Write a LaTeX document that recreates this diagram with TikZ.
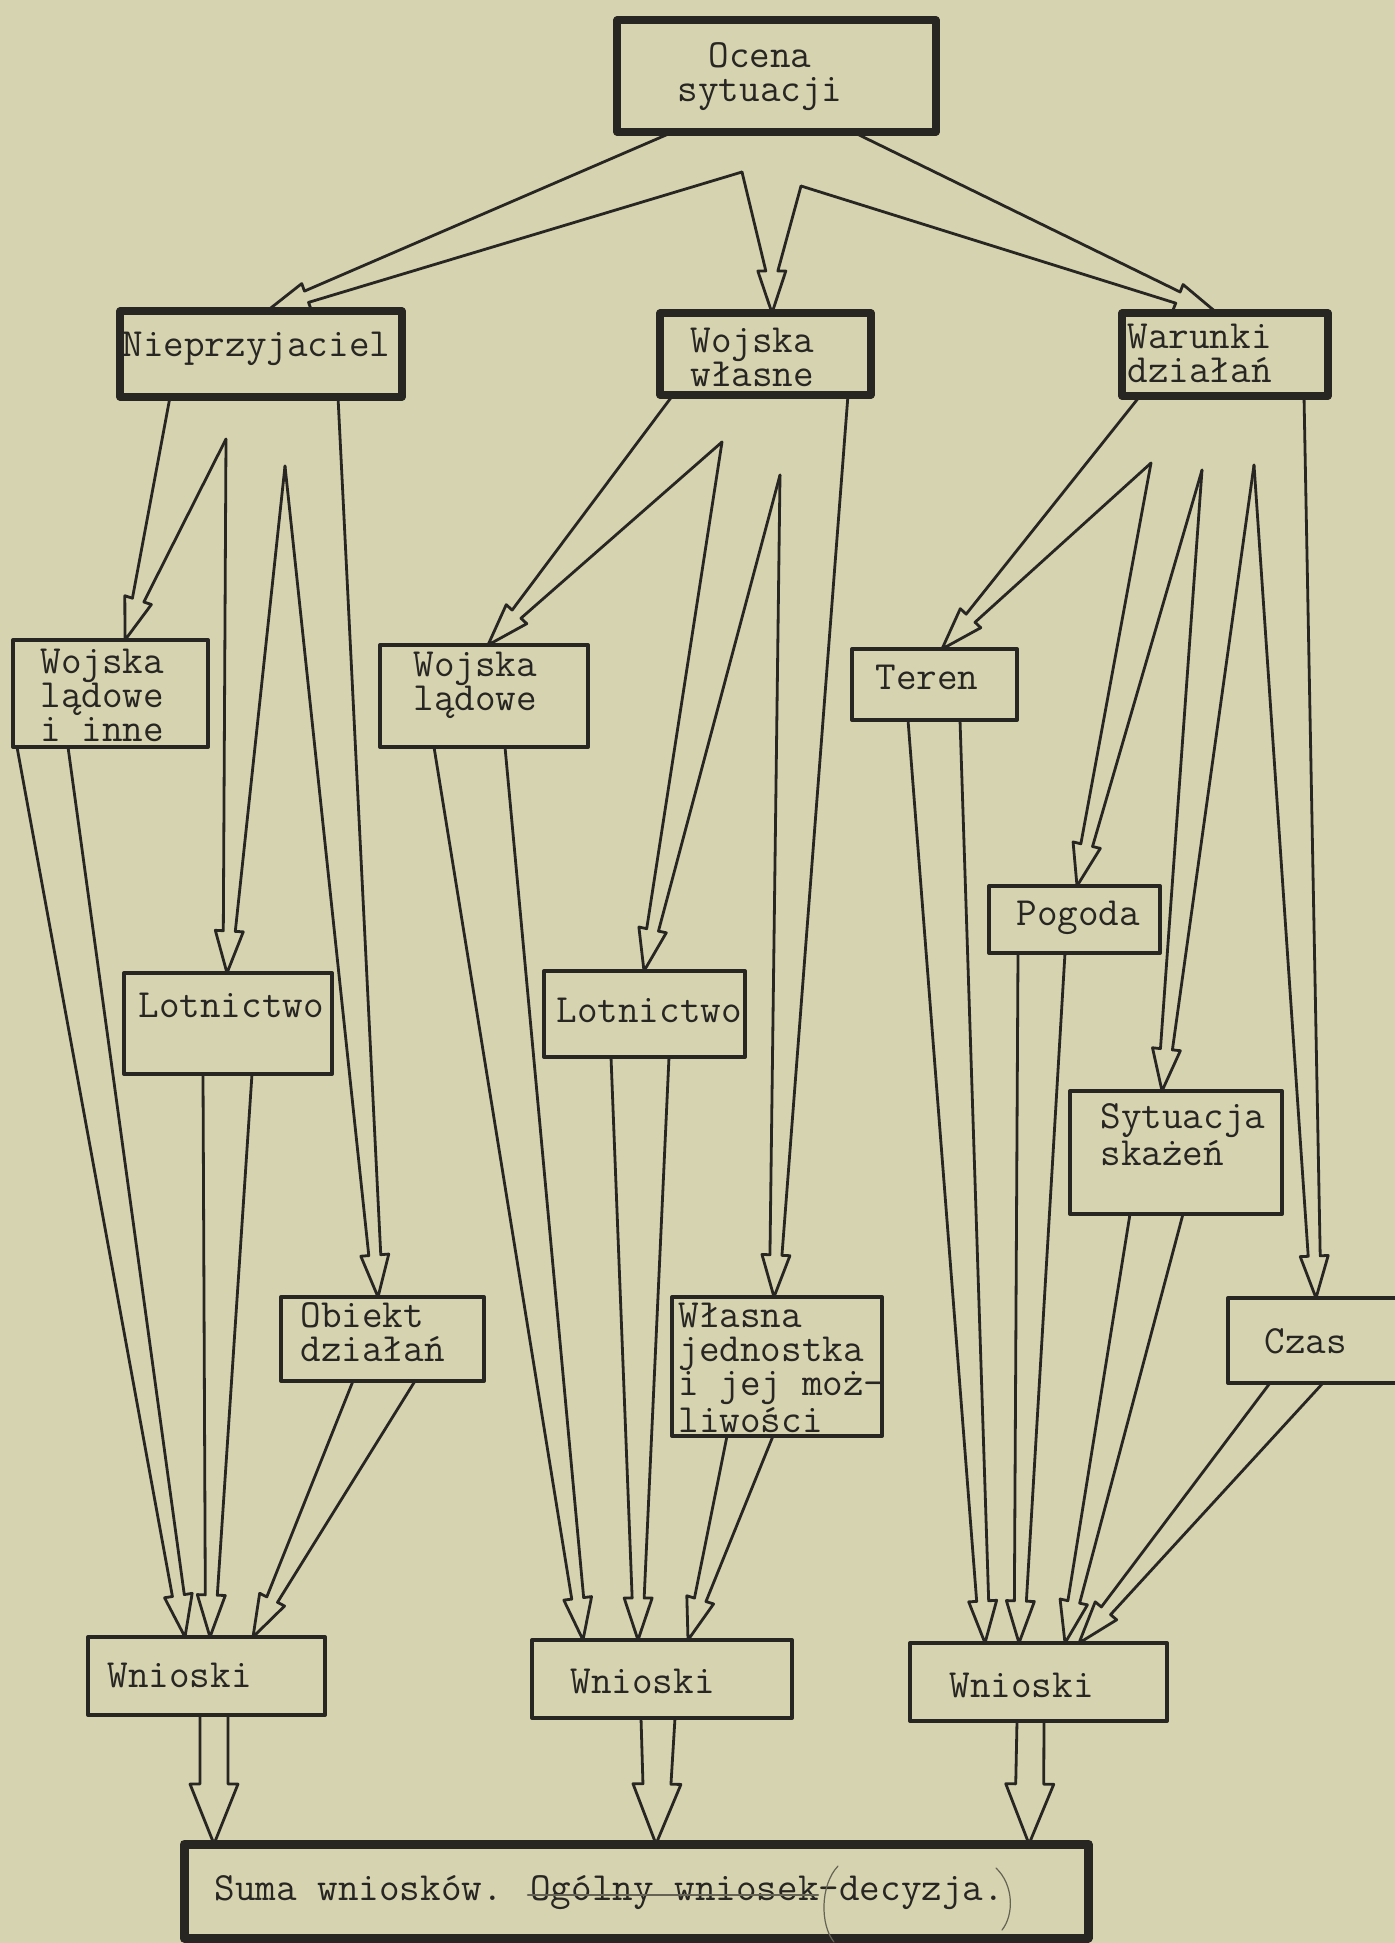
\documentclass[tikz,border=0pt]{standalone}
\usepackage{fontspec}
\usetikzlibrary{calc,fit}

\definecolor{paper}{RGB}{214,211,176}
\definecolor{ink}{RGB}{40,38,34}

\tikzset{
  box/.style={draw=ink, line width=2pt, inner sep=0pt, outer sep=0pt},
  boxthick/.style={box, line width=3.6pt},
  txt/.style={text=ink, inner sep=0pt, anchor=base west, align=left,
    font=\fontsize{20pt}{17pt}\selectfont\ttfamily\addfontfeatures{FakeBold=1.2}},
  conn/.style={draw=ink, line width=1.4pt},
  pencil/.style={draw=ink!65!paper, line width=0.6pt},
}

% hollow arrow: left start, right start, tip
\newcommand{\hdlen}{21pt}
\newcommand{\hdshaft}{3pt}
\newcommand{\hdbarb}{7pt}
\newcommand{\harrow}[3]{%
  \coordinate (ha) at (#1);
  \coordinate (hb) at (#2);
  \coordinate (ht) at (#3);
  \coordinate (hm) at ($(ha)!0.5!(hb)$);
  \coordinate (hh) at ($(ht)!\hdlen!(hm)$);
  \draw[conn] (ha) -- ($(hh)!\hdshaft!-90:(ht)$) -- ($(hh)!\hdbarb!-90:(ht)$)
    -- (ht) -- ($(hh)!\hdbarb!90:(ht)$) -- ($(hh)!\hdshaft!90:(ht)$) -- (hb);
}

\begin{document}
\begin{tikzpicture}[x=0.5pt, y=-0.5pt, line cap=round, line join=round]
  \useasboundingbox (0,0) rectangle (1395,1943);
  \fill[paper] (0,0) rectangle (1395,1943);
  \clip (0,0) rectangle (1395,1943);

  % first level
  \node[boxthick, fit={(617,20) (936,132)}] (ocena) {};
  \node[boxthick, fit={(120,311) (402,397)}] (niep) {};
  \node[boxthick, fit={(660,313) (871,395)}] (wlasne) {};
  \node[boxthick, fit={(1122,313) (1328,396)}] (warunki) {};
  % second level
  \node[box, fit={(13,640) (208,747)}] (wli) {};
  \node[box, fit={(380,645) (588,747)}] (wlad) {};
  \node[box, fit={(852,649) (1017,720)}] (teren) {};
  \node[box, fit={(124,973) (332,1074)}] (lotn1) {};
  \node[box, fit={(544,971) (745,1057)}] (lotn2) {};
  \node[box, fit={(989,886) (1160,953)}] (pogoda) {};
  \node[box, fit={(1070,1091) (1282,1214)}] (skaz) {};
  \node[box, fit={(281,1297) (484,1381)}] (obiekt) {};
  \node[box, fit={(672,1297) (882,1436)}] (jedn) {};
  \node[box, fit={(1228,1298) (1410,1383)}] (czas) {};
  % conclusions
  \node[box, fit={(88,1637) (325,1715)}] (wn1) {};
  \node[box, fit={(532,1640) (792,1718)}] (wn2) {};
  \node[box, fit={(910,1643) (1167,1721)}] (wn3) {};
  \node[boxthick, line width=4.5pt, fit={(184,1844) (1088,1938)}] (suma) {};

  % texts (base = last line)
  \node[txt, anchor=base, align=center] (ocenaT) at (760,101) {Ocena\\sytuacji};
  \node[txt] (niepT) at (122,356) {Nieprzyjaciel};
  \node[txt] (wlasneT) at (690,386) {Wojska\\własne};
  \node[txt] (warunkiT) at (1127,382) {Warunki\\działań};
  \node[txt] (wliT) at (40,741) {Wojska\\lądowe\\i inne};
  \node[txt] (wladT) at (413,710) {Wojska\\lądowe};
  \node[txt] (terenT) at (875,689) {Teren};
  \node[txt] (lotn1T) at (138,1017) {Lotnictwo};
  \node[txt] (lotn2T) at (556,1022) {Lotnictwo};
  \node[txt] (pogodaT) at (1016,925) {Pogoda};
  \node[txt] (skazT) at (1100,1165) {Sytuacja\\skażeń};
  \node[txt] (obiektT) at (300,1361) {Obiekt\\działań};
  \node[txt] (jednT) at (678,1432) {Własna\\jednostka\\i jej moż-\\liwości};
  \node[txt] (czasT) at (1264,1353) {Czas};
  \node[txt] (wn1T) at (107,1687) {Wnioski};
  \node[txt] (wn2T) at (570,1693) {Wnioski};
  \node[txt] (wn3T) at (949,1697) {Wnioski};
  \node[txt] (sumaT) at (214,1900) {Suma wniosków. Ogólny wniosek-decyzja.};

  % fan from Ocena
  \coordinate (o1) at (742,172);
  \coordinate (o2) at (801,186);
  \harrow{673,0 |- ocena.south}{o1}{267,0 |- niep.north}
  \harrow{o1}{o2}{772,0 |- wlasne.north}
  \harrow{o2}{853,0 |- ocena.south}{1217,0 |- warunki.north}

  % fan from Nieprzyjaciel
  \coordinate (n1) at (226,439);
  \coordinate (n2) at (285,466);
  \harrow{170,0 |- niep.south}{n1}{125,0 |- wli.north}
  \harrow{n1}{n2}{227,0 |- lotn1.north}
  \harrow{n2}{338,0 |- niep.south}{378,0 |- obiekt.north}

  % fan from Wojska wlasne
  \coordinate (w1) at (722,442);
  \coordinate (w2) at (780,475);
  \harrow{673,0 |- wlasne.south}{w1}{488,0 |- wlad.north}
  \harrow{w1}{w2}{644,0 |- lotn2.north}
  \harrow{w2}{848,0 |- wlasne.south}{774,0 |- jedn.north}

  % fan from Warunki
  \coordinate (u1) at (1151,463);
  \coordinate (u2) at (1202,470);
  \coordinate (u3) at (1254,465);
  \harrow{1140,0 |- warunki.south}{u1}{942,0 |- teren.north}
  \harrow{u1}{u2}{1077,0 |- pogoda.north}
  \harrow{u2}{u3}{1162,0 |- skaz.north}
  \harrow{u3}{1304,0 |- warunki.south}{1316,0 |- czas.north}

  % into Wnioski
  \harrow{17,0 |- wli.south}{68,0 |- wli.south}{185,0 |- wn1.north}
  \harrow{203,0 |- lotn1.south}{252,0 |- lotn1.south}{210,0 |- wn1.north}
  \harrow{353,0 |- obiekt.south}{415,0 |- obiekt.south}{253,0 |- wn1.north}

  \harrow{434,0 |- wlad.south}{505,0 |- wlad.south}{583,0 |- wn2.north}
  \harrow{611,0 |- lotn2.south}{669,0 |- lotn2.south}{638,0 |- wn2.north}
  \harrow{727,0 |- jedn.south}{773,0 |- jedn.south}{688,0 |- wn2.north}

  \harrow{908,0 |- teren.south}{960,0 |- teren.south}{985,0 |- wn3.north}
  \harrow{1018,0 |- pogoda.south}{1065,0 |- pogoda.south}{1019,0 |- wn3.north}
  \harrow{1130,0 |- skaz.south}{1183,0 |- skaz.south}{1065,0 |- wn3.north}
  \harrow{1270,0 |- czas.south}{1323,0 |- czas.south}{1079,0 |- wn3.north}

  % into Suma
  \begin{scope}
    \renewcommand{\hdlen}{30pt}\renewcommand{\hdshaft}{7pt}\renewcommand{\hdbarb}{12pt}
    \harrow{200,0 |- wn1.south}{228,0 |- wn1.south}{214,0 |- suma.north}
    \harrow{641,0 |- wn2.south}{675,0 |- wn2.south}{656,0 |- suma.north}
    \harrow{1017,0 |- wn3.south}{1044,0 |- wn3.south}{1029,0 |- suma.north}
  \end{scope}

  % pencil marks
  \draw[pencil, line width=1.3pt] (528,1895) -- (818,1895);
  \draw[pencil] (838,1866) .. controls (820,1885) and (820,1925) .. (834,1942);
  \draw[pencil] (996,1868) .. controls (1014,1885) and (1014,1915) .. (1002,1930);
\end{tikzpicture}
\end{document}
